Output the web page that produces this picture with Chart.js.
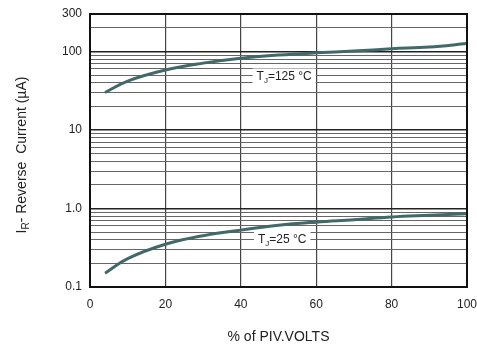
<!DOCTYPE html>
<html>
<head>
<meta charset="utf-8">
<script src="https://cdn.jsdelivr.net/npm/chart.js@4/dist/chart.umd.min.js"></script>
<style>
  body { margin: 0; background: #fff; }
  #wrap { width: 477px; height: 346px; }
</style>
</head>
<body>
<div id="wrap"><canvas id="canvas"></canvas></div>
<script>
// values
var xPct = [4, 10, 20, 30, 40, 50, 60, 70, 80, 90, 100];
var hot = [30, 42, 58, 71, 82, 90, 96, 101, 108, 114, 126];
var cold = [0.15, 0.23, 0.35, 0.45, 0.53, 0.61, 0.67, 0.72, 0.78, 0.82, 0.86];

var xTicks = [0, 20, 40, 60, 80, 100];
var yTicks = [0.1, 0.2, 0.3, 0.4, 0.5, 0.6, 0.7, 0.8, 0.9,
              1, 2, 3, 4, 5, 6, 7, 8, 9,
              10, 20, 30, 40, 50, 60, 70, 80, 90,
              100, 200, 300];
var yLabels = { 0.1: '0.1', 1: '1.0', 10: '10', 100: '100', 300: '300' };

var notes = [
    { sub: 'J', text: '=125 °C', x: 51.5, y: 48 },
    { sub: 'J', text: '=25 °C', x: 51, y: 0.40 }
];

function pts(ys) {
    return xPct.map(function(x, i) { return { x: x, y: ys[i] }; });
}

var lineColor = '#42696a';
var font = 'Liberation Sans, Arial, sans-serif';

var extras = {
    id: 'extras',
    afterDraw: function(chart) {
        var ctx = chart.ctx;
        var a = chart.chartArea;
        var xs = chart.scales.x, ys = chart.scales.y;

        // curve labels with white box
        notes.forEach(function(n) {
            var cx = xs.getPixelForValue(n.x);
            var cy = ys.getPixelForValue(n.y);
            ctx.save();
            ctx.font = '12px ' + font;
            var wT = ctx.measureText('T').width;
            ctx.font = '8px ' + font;
            var wS = ctx.measureText(n.sub).width;
            ctx.font = '12px ' + font;
            var wR = ctx.measureText(n.text).width;
            var w = wT + wS + wR;
            var left = cx - w / 2;
            ctx.fillStyle = '#fff';
            ctx.fillRect(left - 4, cy - 8, w + 8, 16);
            ctx.fillStyle = '#222';
            ctx.textBaseline = 'middle';
            ctx.fillText('T', left, cy);
            ctx.font = '8px ' + font;
            ctx.fillText(n.sub, left + wT, cy + 4);
            ctx.font = '12px ' + font;
            ctx.fillText(n.text, left + wT + wS, cy);
            ctx.restore();
        });

        // frame
        ctx.save();
        ctx.strokeStyle = '#111';
        ctx.lineWidth = 2;
        ctx.strokeRect(a.left, a.top, a.right - a.left, a.bottom - a.top);
        ctx.restore();

        // y title with subscript
        ctx.save();
        ctx.translate(22, 155);
        ctx.rotate(-Math.PI / 2);
        ctx.fillStyle = '#222';
        ctx.textBaseline = 'middle';
        var p1 = 'I', p2 = 'R', p3 = '- Reverse  Current (µA)';
        ctx.font = '14px ' + font;
        var w1 = ctx.measureText(p1).width;
        var w3 = ctx.measureText(p3).width;
        ctx.font = '10px ' + font;
        var w2 = ctx.measureText(p2).width;
        var start = -(w1 + w2 + w3) / 2;
        ctx.font = '14px ' + font;
        ctx.fillText(p1, start, 0);
        ctx.font = '10px ' + font;
        ctx.fillText(p2, start + w1, 4);
        ctx.font = '14px ' + font;
        ctx.fillText(p3, start + w1 + w2, 0);
        ctx.restore();
    }
};

var ctx = document.getElementById('canvas').getContext('2d');
var config = {
    type: 'line',
    data: {
        datasets: [{
            label: 'TJ=125',
            data: pts(hot),
            borderColor: lineColor,
            borderWidth: 3,
            pointRadius: 0,
            tension: 0.4
        }, {
            label: 'TJ=25',
            data: pts(cold),
            borderColor: lineColor,
            borderWidth: 3,
            pointRadius: 0,
            tension: 0.4
        }]
    },
    options: {
        responsive: true,
        maintainAspectRatio: false,
        animation: false,
        layout: { padding: { top: 14, right: 10 } },
        plugins: {
            legend: { display: false },
            tooltip: { enabled: false }
        },
        scales: {
            x: {
                type: 'linear',
                min: 0,
                max: 100,
                afterBuildTicks: function(scale) {
                    scale.ticks = xTicks.map(function(v) { return { value: v }; });
                },
                afterFit: function(scale) {
                    scale.height = 59;
                    scale.paddingLeft = 0;
                    scale.paddingRight = 0;
                },
                grid: {
                    color: '#444',
                    lineWidth: 1.2,
                    drawTicks: false
                },
                border: { display: false },
                ticks: {
                    color: '#222',
                    padding: 10,
                    font: { family: font, size: 12 }
                },
                title: {
                    display: true,
                    text: '% of PIV.VOLTS',
                    color: '#222',
                    padding: { top: 24, bottom: 0 },
                    font: { family: font, size: 14 }
                }
            },
            y: {
                type: 'logarithmic',
                min: 0.1,
                max: 300,
                afterBuildTicks: function(scale) {
                    scale.ticks = yTicks.map(function(v) { return { value: v }; });
                },
                afterFit: function(scale) {
                    scale.width = 90;
                    scale.paddingTop = 0;
                    scale.paddingBottom = 0;
                },
                grid: {
                    drawTicks: false,
                    color: function(c) {
                        var v = c.tick && c.tick.value;
                        return (v === 1 || v === 10 || v === 100) ? '#222' : '#666';
                    },
                    lineWidth: function(c) {
                        var v = c.tick && c.tick.value;
                        return (v === 1 || v === 10 || v === 100) ? 1.6 : 1;
                    }
                },
                border: { display: false },
                ticks: {
                    autoSkip: false,
                    color: '#222',
                    padding: 8,
                    font: { family: font, size: 12 },
                    callback: function(v) {
                        return yLabels[v] || '';
                    }
                }
            }
        }
    },
    plugins: [extras]
};

var chart = new Chart(ctx, config);
</script>
</body>
</html>
